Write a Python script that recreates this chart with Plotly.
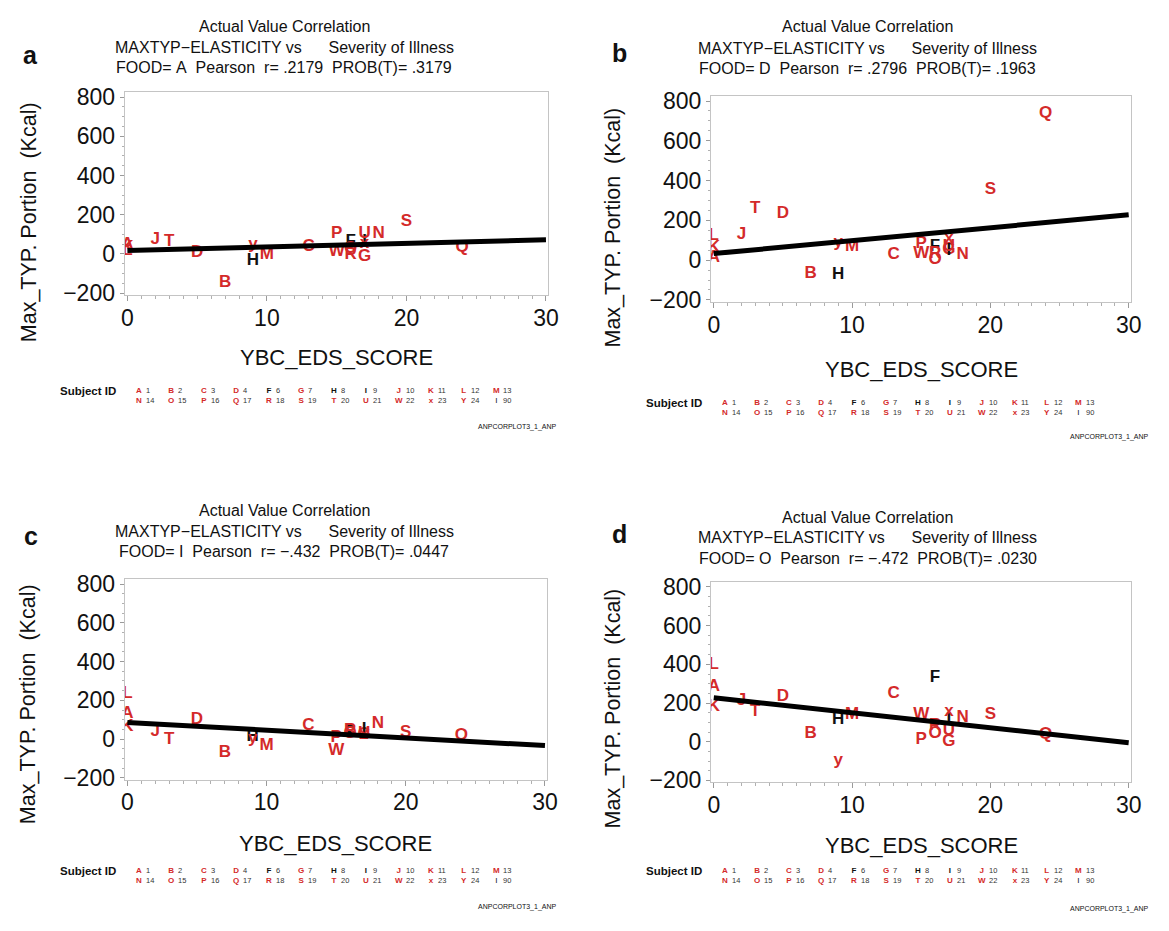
import plotly.graph_objects as go

W, H = 1169, 931
FONT = "Liberation Sans, Arial, sans-serif"
RED = "#d42a2a"
BLK = "#111111"

# ---------------- data ----------------
subjects = ['A', 'B', 'C', 'D', 'F', 'G', 'H', 'I', 'J', 'K', 'L', 'M',
            'N', 'O', 'P', 'Q', 'R', 'S', 'T', 'U', 'W', 'x', 'y']
eds_score = [0, 7, 13, 5, 16, 17, 9, 17, 2, 0, 0, 10,
             18, 16, 15, 24, 16, 20, 3, 17, 15, 17, 9]
black_subjects = ['F', 'H', 'I']

portion_A = [45, -145, 38, 5, 63, -15, -36, 60, 72, 30, 15, -3,
             101, 25, 105, 30, -3, 163, 63, 105, 13, 50, 46]
portion_D = [12, -70, 29, 234, 65, 50, -75, 45, 130, 61, 122, 65,
             29, 4, 83, 735, 34, 352, 259, 65, 34, 107, 86]
portion_I = [133, -69, 69, 100, 35, 22, 12, 49, 36, 63, 234, -32,
             78, 30, 7, 16, 41, 32, -2, 28, -60, 25, 0]
portion_O = [285, 42, 248, 231, 333, 0, 116, 106, 214, 181, 396, 138,
             122, 42, 12, 37, 81, 138, 155, 59, 138, 155, -98]

# regression line end points (x = 0 and x = 30)
fit_x = [0, 30]
fit_A = [17, 72]
fit_D = [33, 228]
fit_I = [86, -33]
fit_O = [227, -5]

panel_letters = ['a', 'b', 'c', 'd']
foods = ['A', 'D', 'I', 'O']
pearson_r = ['.2179', '.2796', '\u2212.432', '\u2212.472']
prob_t = ['.3179', '.1963', '.0447', '.0230']

x_ticks = [0, 10, 20, 30]
y_ticks = [-200, 0, 200, 400, 600, 800]

legend_row1_codes = ['A', 'B', 'C', 'D', 'F', 'G', 'H', 'I', 'J', 'K', 'L', 'M']
legend_row1_ids = ['1', '2', '3', '4', '6', '7', '8', '9', '10', '11', '12', '13']
legend_row2_codes = ['N', 'O', 'P', 'Q', 'R', 'S', 'T', 'U', 'W', 'x', 'Y', 'I']
legend_row2_ids = ['14', '15', '16', '17', '18', '19', '20', '21', '22', '23', '24', '90']
legend_black = ['F', 'H', 'I']

portions = [portion_A, portion_D, portion_I, portion_O]
fits = [fit_A, fit_D, fit_I, fit_O]

# ---------------- layout geometry (pixels) ----------------
XR = [-0.2, 30.15]
YR = [-210, 825]
geo = [
    dict(x0=125, x30=549, y800=91, ym200=291, tx=284, ty=(19, 40, 61), lab=(27, 48),
         ylab=(25, 219), xlab=(337, 357), lx0=136.7, ldx=32.9, ly=(391, 400), sid=85, foot=(520, 428)),
    dict(x0=719, x30=1139.3, y800=95, ym200=298, tx=875, ty=(19, 41, 62), lab=(624, 46),
         ylab=(617, 224), xlab=(929, 369), lx0=730.3, ldx=32.6, ly=(403, 412), sid=679, foot=(1120, 438)),
    dict(x0=125, x30=548, y800=588, ym200=786, tx=284, ty=(513, 534, 555), lab=(27, 539),
         ylab=(25, 711), xlab=(336, 853), lx0=136.7, ldx=32.9, ly=(881, 890), sid=85, foot=(520, 918)),
    dict(x0=719, x30=1139.3, y800=591, ym200=788.5, tx=875, ty=(520, 541, 562), lab=(624, 537),
         ylab=(617, 715), xlab=(929, 855), lx0=730.3, ldx=32.6, ly=(881, 890), sid=679, foot=(1120, 920)),
]


def px(x):
    return x / W


def py(y):
    return 1 - y / H


def colored(c, bold=True):
    col = BLK if c in legend_black else RED
    s = '<span style="color:%s">%s</span>' % (col, c)
    return '<b>%s</b>' % s if bold else s


fig = go.Figure()
annotations = []
layout_axes = {}

for i in range(4):
    g = geo[i]
    sx = (g['x30'] - g['x0']) / 30.0
    left = g['x0'] + XR[0] * sx
    right = g['x0'] + XR[1] * sx
    sy = (g['ym200'] - g['y800']) / 1000.0
    top = g['y800'] - (YR[1] - 800) * sy
    bottom = g['ym200'] + (YR[0] + 200) * -sy
    xa = 'xaxis' if i == 0 else 'xaxis%d' % (i + 1)
    ya = 'yaxis' if i == 0 else 'yaxis%d' % (i + 1)
    xr = 'x' if i == 0 else 'x%d' % (i + 1)
    yr = 'y' if i == 0 else 'y%d' % (i + 1)

    layout_axes[xa] = dict(
        domain=[px(left), px(right)], range=XR, anchor=yr,
        tickvals=x_ticks, showline=True, mirror=True, linecolor='#c4c4c4', linewidth=1,
        ticks='outside', ticklen=5, tickcolor='#9a9a9a', tickwidth=1,
        minor=dict(dtick=1, ticks='outside', ticklen=3, tickcolor='#b0b0b0'),
        showgrid=False, zeroline=False, ticklabelstandoff=-3,
        tickfont=dict(family=FONT, size=23, color=BLK), fixedrange=True)
    layout_axes[ya] = dict(
        domain=[py(bottom), py(top)], range=YR, anchor=xr,
        tickvals=y_ticks, showline=True, mirror=True, linecolor='#c4c4c4', linewidth=1,
        ticks='outside', ticklen=4, tickcolor='#9a9a9a', tickwidth=1,
        minor=dict(dtick=50, ticks='outside', ticklen=2, tickcolor='#b0b0b0'),
        showgrid=False, zeroline=False,
        tickfont=dict(family=FONT, size=23, color=BLK), fixedrange=True)

    colors = [BLK if s in black_subjects else RED for s in subjects]
    fig.add_trace(go.Scatter(
        x=eds_score, y=portions[i], mode='text',
        text=['<b>%s</b>' % s for s in subjects],
        textfont=dict(family=FONT, size=17, color=colors),
        textposition='middle center', xaxis=xr, yaxis=yr, showlegend=False,
        hoverinfo='skip'))
    fig.add_trace(go.Scatter(
        x=fit_x, y=fits[i], mode='lines', line=dict(color='black', width=5),
        xaxis=xr, yaxis=yr, showlegend=False, hoverinfo='skip'))

    # titles
    lines = ['Actual Value Correlation',
             'MAXTYP\u2212ELASTICITY vs\u00a0\u00a0\u00a0\u00a0\u00a0 Severity of Illness',
             'FOOD=\u00a0%s\u00a0 Pearson\u00a0 r=\u00a0%s\u00a0 PROB(T)=\u00a0%s' % (foods[i], pearson_r[i], prob_t[i])]
    for t, yy in zip(lines, g['ty']):
        annotations.append(dict(x=px(g['tx']), y=py(yy), xref='paper', yref='paper', text=t,
                                showarrow=False, xanchor='center', yanchor='middle',
                                font=dict(family=FONT, size=16, color=BLK)))
    annotations.append(dict(x=px(g['lab'][0]), y=py(g['lab'][1]), xref='paper', yref='paper',
                            text='<b>%s</b>' % panel_letters[i], showarrow=False,
                            xanchor='center', yanchor='middle',
                            font=dict(family=FONT, size=25, color=BLK)))
    annotations.append(dict(x=px(g['ylab'][0]), y=py(g['ylab'][1]), xref='paper', yref='paper',
                            text='Max_TYP. Portion\u00a0\u00a0(Kcal)', textangle=-90,
                            showarrow=False, xanchor='center', yanchor='middle',
                            font=dict(family=FONT, size=21.5, color=BLK)))
    annotations.append(dict(x=px(g['xlab'][0]), y=py(g['xlab'][1]), xref='paper', yref='paper',
                            text='YBC_EDS_SCORE', showarrow=False, xanchor='center', yanchor='middle',
                            font=dict(family=FONT, size=22, color=BLK)))
    # subject id legend (one annotation per column, two rows each)
    annotations.append(dict(x=px(g['sid']), y=py(g['ly'][0]), xref='paper', yref='paper',
                            text='<b>Subject ID</b>', showarrow=False, xanchor='center', yanchor='middle',
                            font=dict(family=FONT, size=11.5, color=BLK)))
    ymid = (g['ly'][0] + g['ly'][1]) / 2.0
    for k in range(len(legend_row1_codes)):
        lx = g['lx0'] + k * g['ldx']
        c1, c2 = legend_row1_codes[k], legend_row2_codes[k]
        last = (k == len(legend_row1_codes) - 1)
        ctext = colored(c1) + '<br>' + colored(c2, bold=not last)
        annotations.append(dict(x=px(lx), y=py(ymid), xref='paper', yref='paper',
                                text=ctext, showarrow=False, xanchor='center', yanchor='middle',
                                borderpad=0, font=dict(family=FONT, size=8, color=RED)))
        annotations.append(dict(x=px(lx + 6), y=py(ymid), xref='paper', yref='paper',
                                text=legend_row1_ids[k] + '<br>' + legend_row2_ids[k],
                                showarrow=False, xanchor='left', yanchor='middle', align='left',
                                borderpad=0, font=dict(family=FONT, size=7.5, color='#333333')))
    annotations.append(dict(x=px(g['foot'][0]), y=py(g['foot'][1]), xref='paper', yref='paper',
                            text='ANPCORPLOT3_1_ANP', showarrow=False, xanchor='center', yanchor='middle',
                            font=dict(family=FONT, size=7, color=BLK)))

fig.update_layout(
    width=W, height=H, margin=dict(l=0, r=0, t=0, b=0),
    paper_bgcolor='white', plot_bgcolor='white', showlegend=False,
    annotations=annotations, **layout_axes)

fig.write_html("out.html", config={'displayModeBar': False, 'staticPlot': True},
               post_script="document.body.style.margin='0px';document.body.style.overflow='hidden';")
